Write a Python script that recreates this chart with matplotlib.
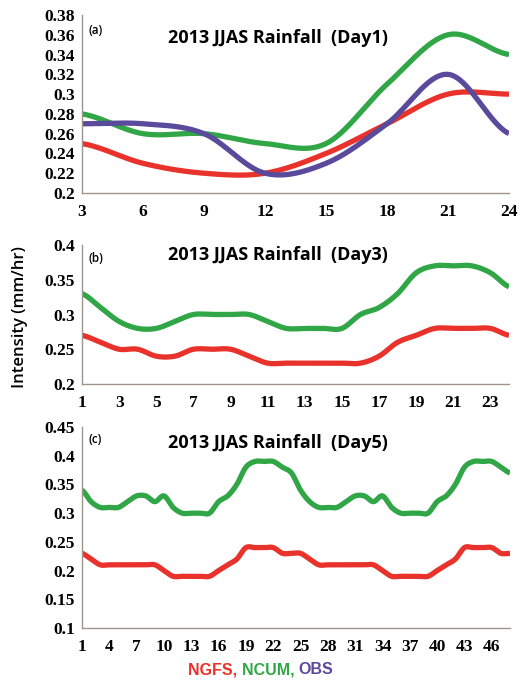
import numpy as np
import matplotlib
matplotlib.use("Agg")
import matplotlib.pyplot as plt
from matplotlib.ticker import FuncFormatter

# ---------------- data ----------------
hours_a = [3, 6, 9, 12, 15, 18, 21, 24]
ngfs_a = [0.25, 0.23, 0.22, 0.22, 0.24, 0.27, 0.30, 0.30]
ncum_a = [0.28, 0.26, 0.26, 0.25, 0.25, 0.31, 0.36, 0.34]
obs_a = [0.27, 0.27, 0.26, 0.22, 0.23, 0.27, 0.32, 0.26]

hours_b = list(range(1, 25))
ngfs_b = [0.27, 0.26, 0.25, 0.25, 0.24, 0.24, 0.25, 0.25, 0.25, 0.24, 0.23, 0.23,
          0.23, 0.23, 0.23, 0.23, 0.24, 0.26, 0.27, 0.28, 0.28, 0.28, 0.28, 0.27]
ncum_b = [0.33, 0.31, 0.29, 0.28, 0.28, 0.29, 0.30, 0.30, 0.30, 0.30, 0.29, 0.28,
          0.28, 0.28, 0.28, 0.30, 0.31, 0.33, 0.36, 0.37, 0.37, 0.37, 0.36, 0.34]

hours_c = list(range(1, 49))
ngfs_c = [0.23, 0.22, 0.21, 0.21, 0.21, 0.21, 0.21, 0.21, 0.21, 0.20, 0.19, 0.19,
          0.19, 0.19, 0.19, 0.20, 0.21, 0.22, 0.24, 0.24, 0.24, 0.24, 0.23, 0.23,
          0.23, 0.22, 0.21, 0.21, 0.21, 0.21, 0.21, 0.21, 0.21, 0.20, 0.19, 0.19,
          0.19, 0.19, 0.19, 0.20, 0.21, 0.22, 0.24, 0.24, 0.24, 0.24, 0.23, 0.23]
ncum_c = [0.34, 0.32, 0.31, 0.31, 0.31, 0.32, 0.33, 0.33, 0.32, 0.33, 0.31, 0.30,
          0.30, 0.30, 0.30, 0.32, 0.33, 0.35, 0.38, 0.39, 0.39, 0.39, 0.38, 0.37,
          0.34, 0.32, 0.31, 0.31, 0.31, 0.32, 0.33, 0.33, 0.32, 0.33, 0.31, 0.30,
          0.30, 0.30, 0.30, 0.32, 0.33, 0.35, 0.38, 0.39, 0.39, 0.39, 0.38, 0.37]

xticks_a = [3, 6, 9, 12, 15, 18, 21, 24]
xticks_b = list(range(1, 24, 2))
xticks_c = list(range(1, 47, 3))
yticks_a = [0.2, 0.22, 0.24, 0.26, 0.28, 0.3, 0.32, 0.34, 0.36, 0.38]
yticks_b = [0.2, 0.25, 0.3, 0.35, 0.4]
yticks_c = [0.1, 0.15, 0.2, 0.25, 0.3, 0.35, 0.4, 0.45]
titles = ["2013 JJAS Rainfall  (Day1)", "2013 JJAS Rainfall  (Day3)", "2013 JJAS Rainfall  (Day5)"]
panel_labels = ["(a)", "(b)", "(c)"]

RED = "#e8322b"
GREEN = "#30a646"
PURPLE = "#5a4a9c"
SPINE = "#a0958c"


def smooth(x, y, n=20):
    """Catmull-Rom style smoothing for drawing (like spreadsheet smoothed lines)."""
    x = np.asarray(x, float)
    y = np.asarray(y, float)
    px = np.concatenate([[2 * x[0] - x[1]], x, [2 * x[-1] - x[-2]]])
    py = np.concatenate([[y[0]], y, [y[-1]]])
    xs, ys = [], []
    t = np.linspace(0, 1, n, endpoint=False)
    for i in range(1, len(px) - 2):
        p0, p1, p2, p3 = py[i - 1], py[i], py[i + 1], py[i + 2]
        q0, q1, q2, q3 = px[i - 1], px[i], px[i + 1], px[i + 2]
        for arr, a0, a1, a2, a3 in ((ys, p0, p1, p2, p3), (xs, q0, q1, q2, q3)):
            m1 = (a2 - a0) / 2 * (q2 - q1) / ((q2 - q0) / 2)
            m2 = (a3 - a1) / 2 * (q2 - q1) / ((q3 - q1) / 2)
            h00 = 2 * t**3 - 3 * t**2 + 1
            h10 = t**3 - 2 * t**2 + t
            h01 = -2 * t**3 + 3 * t**2
            h11 = t**3 - t**2
            arr.extend(h00 * a1 + h10 * m1 + h01 * a2 + h11 * m2)
    xs.append(x[-1])
    ys.append(y[-1])
    return np.array(xs), np.array(ys)


fig = plt.figure(figsize=(5.27, 6.82), dpi=100)
W, H = 527, 682
boxes = [(82, 509, 15, 193), (82, 509, 245, 384), (82, 510, 427, 628)]
axes = []
for (l, r, t, b) in boxes:
    axes.append(fig.add_axes([l / W, 1 - b / H, (r - l) / W, (b - t) / H]))

tick_font = dict(family="Liberation Serif", weight="bold", size=12.5)
title_font = dict(family="Open Sans", weight="bold", size=13)
LW = 3.8

panels = [
    (hours_a, [(ncum_a, GREEN), (ngfs_a, RED), (obs_a, PURPLE)], xticks_a, yticks_a, (3, 24), (0.2, 0.38)),
    (hours_b, [(ncum_b, GREEN), (ngfs_b, RED)], xticks_b, yticks_b, (1, 24), (0.2, 0.4)),
    (hours_c, [(ncum_c, GREEN), (ngfs_c, RED)], xticks_c, yticks_c, (1, 48), (0.1, 0.45)),
]

for i, (ax, (hx, series, xt, yt, xl, yl)) in enumerate(zip(axes, panels)):
    for ys, col in series:
        sx, sy = smooth(hx, ys)
        ax.plot(sx, sy, color=col, lw=LW, solid_capstyle="butt")
    ax.set_xlim(*xl)
    ax.set_ylim(*yl)
    ax.set_xticks(xt)
    ax.set_yticks(yt)
    ax.yaxis.set_major_formatter(FuncFormatter(lambda v, p: ("%g" % round(v, 3))))
    for s in ("top", "right"):
        ax.spines[s].set_visible(False)
    for s in ("left", "bottom"):
        ax.spines[s].set_color(SPINE)
        ax.spines[s].set_linewidth(1.0)
    ax.tick_params(length=0, pad=5)
    ax.tick_params(axis="x", pad=8)
    for lab in ax.get_xticklabels() + ax.get_yticklabels():
        lab.set_fontfamily(tick_font["family"])
        lab.set_fontweight(tick_font["weight"])
        lab.set_fontsize(tick_font["size"])
    ax.text(0.015, 0.95 if i != 2 else 0.97, panel_labels[i], transform=ax.transAxes,
            fontsize=8.5, fontweight="semibold", family="Open Sans", va="top", ha="left")

title_y = [38, 255, 443]
for ty, tt in zip(title_y, titles):
    fig.text(278 / W, 1 - ty / H, tt, ha="center", va="center", **title_font)

fig.text(20 / W, 1 - 317 / H, "Intensity (mm/hr)", rotation=90, ha="center", va="center",
         family="Open Sans", weight="semibold", size=12)

# colored legend text
parts = [("NGFS, ", RED), ("NCUM, ", GREEN), ("OBS", PURPLE)]
renderer = fig.canvas.get_renderer()
x0 = 188
for txt, col in parts:
    t = fig.text(x0 / W, 1 - 670 / H, txt, color=col, ha="left", va="center",
                 family="Liberation Sans", weight="bold", size=11.5)
    bb = t.get_window_extent(renderer=renderer)
    x0 += bb.width

fig.savefig("out.png", dpi=100)
